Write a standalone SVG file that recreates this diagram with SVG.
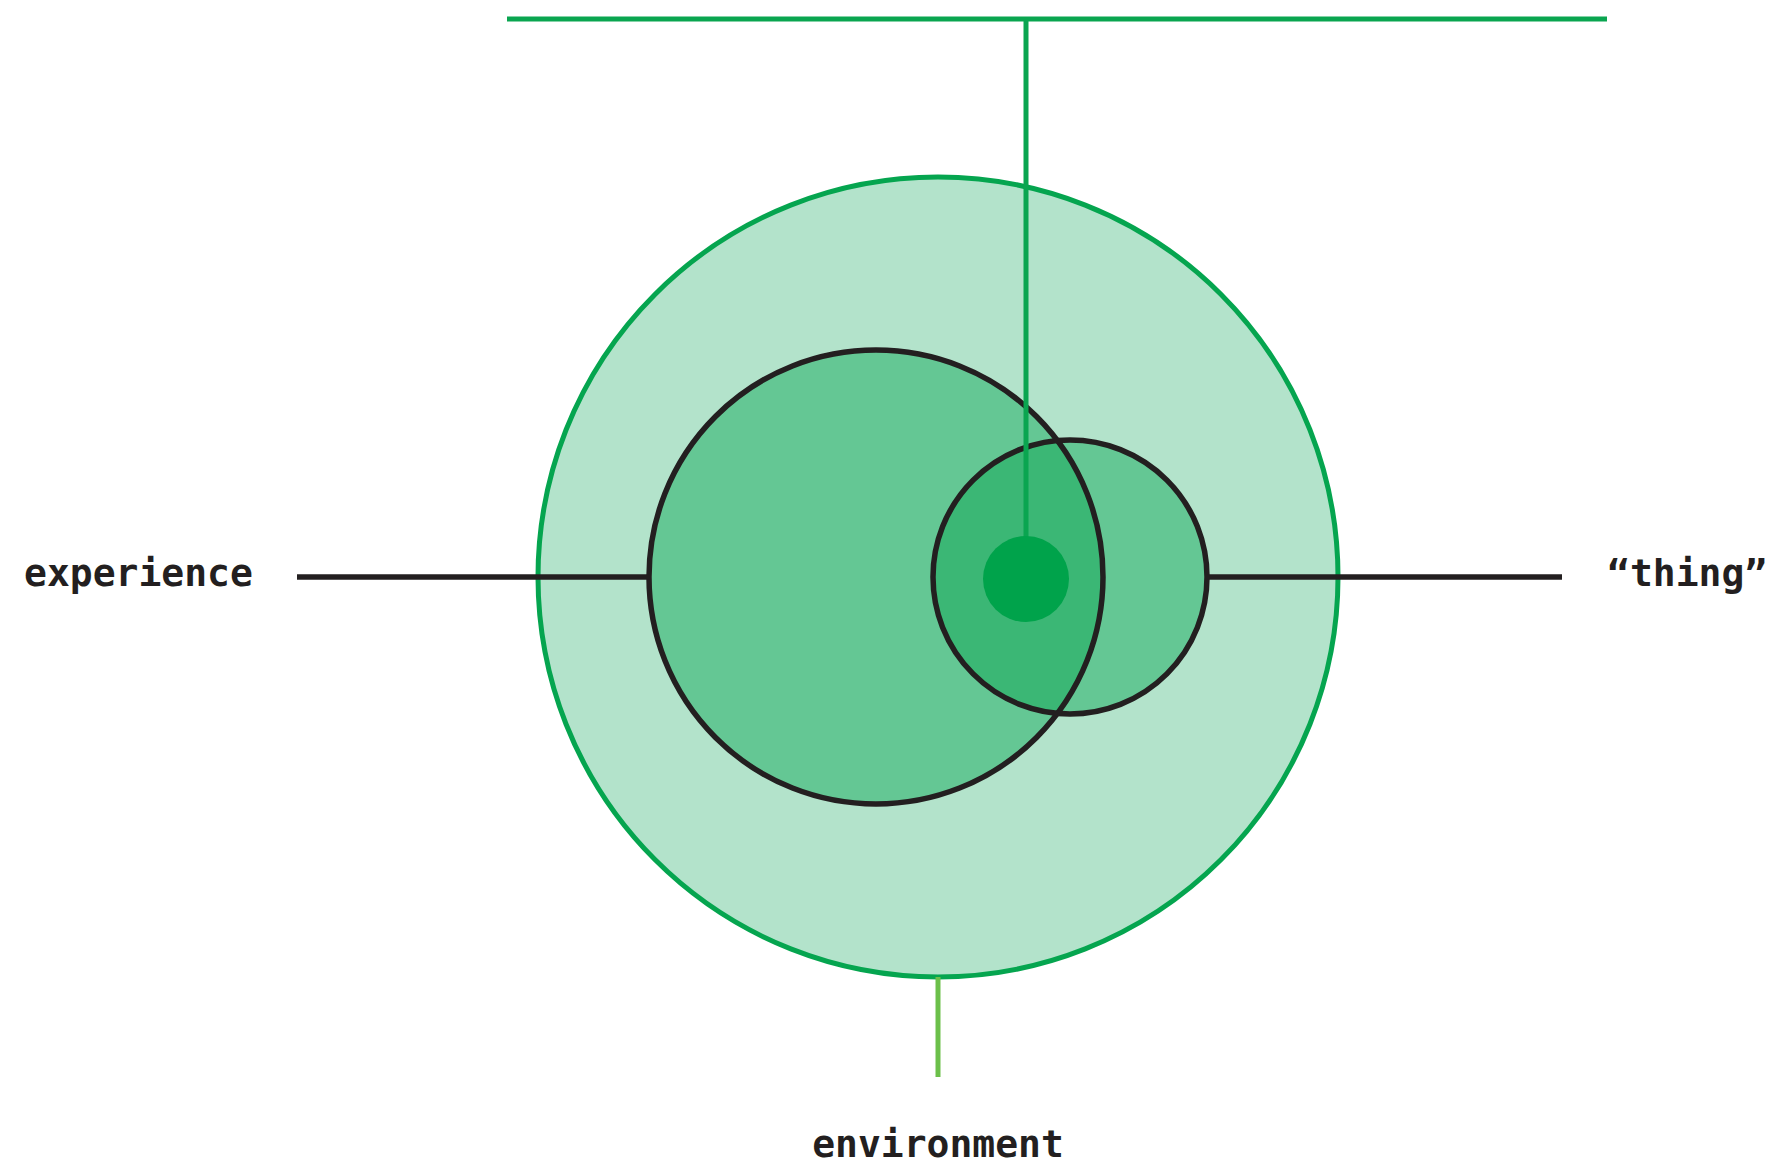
<svg xmlns="http://www.w3.org/2000/svg" width="1773" height="1167" viewBox="0 0 1773 1167">
<style>
.lbl{font-family:"DejaVu Sans Mono","Liberation Mono",monospace;font-weight:bold;font-size:38px;fill:#231f20}
.blk{stroke:#231f20;stroke-width:5.5;fill:none}
.grn{stroke:#0aa550;stroke-width:5;fill:none}
</style>
<defs>
<clipPath id="clipExp"><circle cx="876" cy="577" r="227"/></clipPath>
</defs>
<rect width="1773" height="1167" fill="#ffffff"/>
<g id="environment">
<circle cx="938" cy="577" r="400" fill="#b3e3cb" stroke="#05a54f" stroke-width="5"/>
<text class="lbl" x="938" y="1157" text-anchor="middle">environment</text>
</g>
<g id="experience">
<circle cx="876" cy="577" r="227" fill="#64c794"/>
<text class="lbl" x="24" y="586">experience</text>
</g>
<g id="thing">
<circle cx="1070" cy="577" r="137" fill="#64c794"/>
<circle cx="1070" cy="577" r="137" fill="#3bb775" clip-path="url(#clipExp)"/>
<text class="lbl" x="1607" y="586">“thing”</text>
</g>
<g id="outlines">
<circle cx="876" cy="577" r="227" class="blk"/>
<circle cx="1070" cy="577" r="137" class="blk"/>
</g>
<g id="connectors">
<line x1="297" y1="577" x2="649" y2="577" class="blk"/>
<line x1="1207" y1="577" x2="1562" y2="577" class="blk"/>
<line x1="938" y1="977" x2="938" y2="1077" stroke="#6cc04a" stroke-width="5"/>
<line x1="507" y1="19" x2="1607" y2="19" class="grn" stroke-width="5.5"/>
<line x1="1026" y1="19" x2="1026" y2="545" class="grn" stroke-width="5"/>
</g>
<g id="core">
<circle cx="1026" cy="579" r="43" fill="#00a34b"/>
</g>
</svg>
